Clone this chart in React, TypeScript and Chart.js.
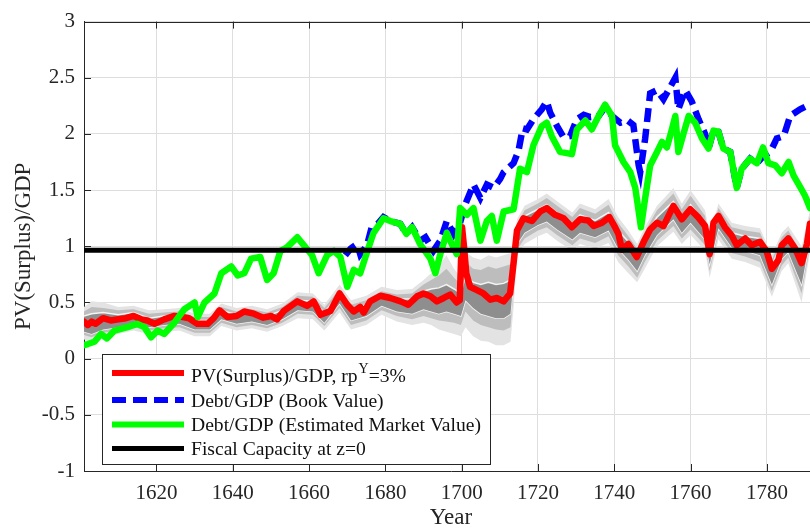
import React, { useEffect, useRef } from "react";
import { Chart, registerables } from "chart.js";

Chart.register(...registerables);

// ---------- data ----------
const xTicks = [1620, 1640, 1660, 1680, 1700, 1720, 1740, 1760, 1780];
const yTicks = [-1, -0.5, 0, 0.5, 1, 1.5, 2, 2.5, 3];
const X_MIN = 1601;
const X_MAX = 1793.4;
const Y_MIN = -1;
const Y_MAX = 3;

const redYears = [1601,1602,1603,1604,1606,1608,1610,1612,1614,1616,1617.6,1619.5,1622,1624.7,1627,1628.5,1630.7,1633.4,1635,1636.5,1638.6,1641,1643,1645.5,1648,1650,1651.6,1653.4,1656.9,1659.5,1661.2,1663,1665.6,1668,1670,1671.7,1673.4,1674.3,1676,1678.7,1681.3,1684,1686,1688.3,1690,1691.8,1693.5,1695.3,1697,1698.7,1699.5,1700.1,1700.6,1701.2,1702.2,1704,1705.7,1707.5,1709.2,1711,1712.7,1713.6,1714.5,1716.2,1718.4,1720.6,1722.3,1724.5,1726.7,1728.9,1731,1733.2,1734.6,1736.8,1738.7,1740.2,1741.1,1742,1743.7,1745.9,1747.7,1749.4,1751.2,1752.9,1755.5,1757.7,1759.9,1762.1,1763.8,1765,1766,1767.3,1769,1770.8,1772.1,1774.3,1776,1778.2,1779.9,1781.3,1783,1783.9,1785.6,1787.4,1789.1,1790.5,1791.3];
const redValues = [0.33,0.30,0.33,0.31,0.36,0.34,0.35,0.36,0.38,0.35,0.34,0.31,0.35,0.38,0.37,0.36,0.31,0.31,0.36,0.43,0.37,0.38,0.42,0.40,0.365,0.38,0.35,0.425,0.51,0.47,0.51,0.39,0.425,0.58,0.48,0.42,0.46,0.41,0.51,0.56,0.54,0.51,0.48,0.555,0.58,0.555,0.51,0.54,0.57,0.50,0.52,1.17,1.00,0.76,0.64,0.61,0.58,0.525,0.54,0.51,0.58,0.85,1.14,1.25,1.225,1.31,1.34,1.28,1.25,1.17,1.24,1.23,1.18,1.21,1.26,1.17,1.11,0.97,1.02,0.905,1.04,1.15,1.21,1.18,1.36,1.24,1.33,1.255,1.18,0.93,1.21,1.27,1.17,1.095,1.01,1.07,1.01,1.04,0.96,0.80,0.875,1.01,1.07,0.98,0.85,1.02,1.20];

const greenYears = [1601,1602,1603.7,1605.5,1607,1609,1612.4,1615,1616.8,1618.6,1620.3,1622,1624.7,1627.3,1630,1630.8,1632.6,1635.2,1637,1639.6,1641.3,1643,1644.8,1647.2,1649,1650.7,1652.5,1654.2,1656.9,1658.6,1660.8,1662.5,1664.7,1666.5,1668.2,1670,1671.7,1673.4,1675.2,1676.9,1679.5,1681.3,1683.9,1685.5,1687,1689.1,1691.8,1693.1,1694.4,1696.1,1697.4,1698.7,1699.6,1701.4,1703.1,1704.9,1706.6,1707.9,1709.2,1711,1713.6,1715.3,1717.1,1718.8,1721,1722.3,1723.6,1725.8,1728.9,1730.2,1732.4,1734.1,1735.9,1737.6,1739.4,1740.2,1742.4,1744.2,1745.5,1747,1748.1,1749.4,1751.2,1752.5,1753.8,1755.1,1756,1756.8,1758.2,1759.5,1761.2,1763,1764.7,1766,1767.3,1768.6,1770.4,1772.1,1773.4,1775.6,1777.4,1779,1780.4,1782.2,1783.9,1785.7,1787,1788.7,1790,1791.3];
const greenValues = [0.12,0.13,0.15,0.22,0.18,0.25,0.28,0.31,0.28,0.19,0.25,0.22,0.32,0.44,0.50,0.37,0.50,0.58,0.76,0.82,0.74,0.76,0.89,0.905,0.70,0.76,0.96,0.99,1.08,1.01,0.92,0.76,0.92,0.96,0.905,0.64,0.79,0.76,0.95,1.12,1.25,1.225,1.20,1.11,1.17,1.02,0.89,0.76,0.93,1.12,1.02,0.93,1.34,1.28,1.34,1.05,1.225,1.27,1.05,1.31,1.33,1.69,1.66,1.90,2.07,2.10,1.98,1.84,1.82,2.04,2.12,2.04,2.16,2.26,2.16,1.90,1.75,1.66,1.52,1.17,1.43,1.72,1.84,1.93,1.88,2.04,2.16,1.84,2.01,2.16,2.10,1.96,1.87,2.03,2.02,1.87,1.84,1.52,1.69,1.78,1.74,1.88,1.74,1.72,1.65,1.75,1.63,1.53,1.45,1.34];

const blueYears = [1669.5,1670.9,1672.6,1673.4,1675.2,1676.5,1678,1679.5,1681.3,1683.9,1685.5,1687,1689.1,1690.5,1692.6,1694.4,1696.1,1697.9,1699.5,1700.9,1703.1,1704.9,1706.6,1708.4,1710.1,1711,1713.6,1714.9,1716,1717.1,1718.8,1721,1722.3,1723.2,1725,1726.7,1728.4,1730.2,1732,1733.7,1735.9,1737.6,1739.4,1741.6,1743.5,1745,1746.4,1746.8,1748.1,1749.4,1751.2,1752.9,1754.2,1756,1756.8,1758.6,1760.3,1762.1,1763.8,1764.7,1766,1767.3,1768.6,1770.4,1772.1,1773.4,1775.6,1777.4,1779,1780.9,1782.6,1784.4,1786.1,1788.7,1790.5,1791.3];
const blueValues = [0.92,0.98,1.02,0.93,1.01,1.18,1.20,1.26,1.225,1.20,1.11,1.17,1.05,1.08,0.96,1.05,1.225,1.11,1.20,1.37,1.55,1.43,1.55,1.52,1.60,1.66,1.74,1.85,2.05,2.04,2.13,2.22,2.29,2.19,2.07,1.97,1.98,2.13,2.17,2.15,2.16,2.24,2.16,2.10,2.12,2.08,1.72,1.66,1.96,2.36,2.39,2.31,2.39,2.50,2.22,2.39,2.29,2.13,2.00,1.87,2.03,2.02,1.87,1.84,1.52,1.69,1.78,1.74,1.80,1.84,1.96,1.98,2.16,2.22,2.25,2.22];

const capacityYears = [X_MIN, X_MAX];
const capacityValues = [0.965, 0.965];

const bandYears = [1601,1603,1606,1610,1614,1618,1622,1626,1630,1634,1637,1641,1645,1649,1653,1657,1661,1664,1668,1671,1675,1679,1683,1687,1690,1692,1694,1696,1698,1699.8,1701,1703,1705,1707,1709,1711,1712.8,1713.6,1714.5,1716.5,1720,1722.3,1725,1729,1731,1735,1738.5,1741,1743.7,1746,1748,1751.2,1755.5,1757.7,1760,1763.8,1765,1767.3,1770.8,1774.3,1778.2,1781.3,1783.9,1785.6,1789.1,1791.3];
const outerHi = [0.46,0.51,0.50,0.46,0.47,0.43,0.44,0.45,0.40,0.40,0.49,0.45,0.47,0.44,0.49,0.59,0.58,0.48,0.66,0.52,0.56,0.64,0.61,0.62,0.70,0.76,0.82,0.92,0.80,0.72,0.95,0.90,0.88,0.92,0.90,0.92,0.94,1.05,1.24,1.36,1.42,1.47,1.40,1.30,1.38,1.33,1.42,1.26,1.14,1.02,1.17,1.36,1.52,1.38,1.50,1.32,1.10,1.38,1.21,1.18,1.16,0.92,1.12,1.18,1.00,1.32];
const midHi = [0.42,0.46,0.45,0.43,0.44,0.40,0.41,0.42,0.37,0.37,0.46,0.42,0.44,0.41,0.46,0.56,0.55,0.45,0.62,0.48,0.52,0.60,0.57,0.58,0.66,0.70,0.74,0.80,0.72,0.66,0.86,0.80,0.79,0.82,0.80,0.82,0.84,0.98,1.20,1.32,1.38,1.43,1.36,1.26,1.34,1.29,1.37,1.21,1.09,0.98,1.13,1.32,1.47,1.33,1.45,1.27,1.04,1.34,1.17,1.14,1.12,0.88,1.08,1.14,0.94,1.27];
const innerHi = [0.38,0.40,0.41,0.39,0.41,0.36,0.38,0.39,0.34,0.34,0.43,0.39,0.41,0.38,0.43,0.52,0.51,0.41,0.58,0.44,0.48,0.57,0.53,0.53,0.60,0.62,0.63,0.66,0.62,0.58,0.74,0.68,0.66,0.68,0.66,0.67,0.70,0.88,1.16,1.27,1.33,1.37,1.30,1.20,1.28,1.23,1.30,1.14,1.04,0.93,1.08,1.26,1.40,1.27,1.37,1.21,0.97,1.29,1.12,1.09,1.07,0.83,1.03,1.09,0.88,1.22];
const innerLo = [0.24,0.22,0.26,0.28,0.31,0.28,0.30,0.31,0.26,0.26,0.35,0.31,0.33,0.30,0.35,0.43,0.42,0.32,0.49,0.34,0.38,0.47,0.42,0.40,0.44,0.42,0.40,0.42,0.40,0.38,0.52,0.45,0.40,0.38,0.36,0.36,0.40,0.70,1.02,1.12,1.19,1.22,1.15,1.06,1.12,1.08,1.14,0.98,0.88,0.78,0.92,1.10,1.24,1.12,1.21,1.06,0.84,1.16,0.99,0.96,0.92,0.66,0.89,0.95,0.66,1.06];
const midLo = [0.21,0.19,0.23,0.25,0.28,0.25,0.27,0.28,0.23,0.23,0.32,0.28,0.30,0.27,0.32,0.40,0.39,0.29,0.45,0.30,0.34,0.43,0.38,0.35,0.38,0.36,0.34,0.33,0.32,0.30,0.42,0.34,0.30,0.28,0.26,0.25,0.28,0.60,0.97,1.07,1.14,1.17,1.10,1.01,1.07,1.03,1.09,0.92,0.82,0.72,0.86,1.05,1.18,1.07,1.15,1.01,0.78,1.11,0.94,0.91,0.86,0.60,0.83,0.90,0.58,1.00];
const outerLo = [0.17,0.15,0.19,0.22,0.25,0.22,0.24,0.25,0.20,0.20,0.29,0.25,0.27,0.24,0.29,0.36,0.35,0.25,0.41,0.26,0.30,0.39,0.33,0.30,0.32,0.30,0.26,0.24,0.22,0.20,0.28,0.20,0.16,0.15,0.12,0.12,0.15,0.45,0.92,1.02,1.09,1.12,1.05,0.96,1.02,0.98,1.03,0.86,0.76,0.68,0.80,1.00,1.13,1.02,1.10,0.96,0.72,1.06,0.89,0.86,0.81,0.55,0.78,0.85,0.50,0.95];

// ---------- styling ----------
const SERIF = "'Liberation Serif', 'Times New Roman', Times, serif";
const AXIS_COLOR = "#262626";
const GRID_COLOR = "#dedede";
const RED = "#ff0000";
const BLUE = "#0000ff";
const GREEN = "#00ff00";
const BLACK = "#000000";
const CANVAS_W = 830;
const CANVAS_H = 532;
const LINE_W = 6.5;

const pts = (xs: number[], ys: number[]) => xs.map((x, i) => ({ x, y: ys[i] }));

const framePlugin = {
  id: "frameTicks",
  beforeDatasetsDraw(chart: any) {
    const { ctx, chartArea: a, scales } = chart;
    const xs = scales.x;
    const ys = scales.y;
    ctx.save();
    ctx.strokeStyle = AXIS_COLOR;
    ctx.lineWidth = 1;
    ctx.beginPath();
    ctx.moveTo(a.left, Math.round(a.top) + 0.5);
    ctx.lineTo(a.right, Math.round(a.top) + 0.5);
    xTicks.forEach((v) => {
      const px = Math.round(xs.getPixelForValue(v)) + 0.5;
      ctx.moveTo(px, a.bottom);
      ctx.lineTo(px, a.bottom - 7);
      ctx.moveTo(px, a.top);
      ctx.lineTo(px, a.top + 7);
    });
    yTicks.forEach((v) => {
      const py = Math.round(ys.getPixelForValue(v)) + 0.5;
      ctx.moveTo(a.left, py);
      ctx.lineTo(a.left + 7, py);
    });
    ctx.stroke();
    ctx.restore();
  },
};

const legendItems = [
  { color: RED, width: 6, dash: [] as number[], dy: 19 },
  { color: BLUE, width: 6, dash: [14, 7], dy: 46 },
  { color: GREEN, width: 6, dash: [] as number[], dy: 70.5 },
  { color: BLACK, width: 5, dash: [] as number[], dy: 94.5 },
];
const legendTexts = [
  "Debt/GDP (Book Value)",
  "Debt/GDP (Estimated Market Value)",
  "Fiscal Capacity at z=0",
];

const legendPlugin = {
  id: "boxLegend",
  afterDatasetsDraw(chart: any) {
    const { ctx, chartArea: a } = chart;
    const bx = Math.round(a.left + 18);
    const by = Math.round(a.top + 332);
    const bw = 388;
    const bh = 110;
    ctx.save();
    ctx.fillStyle = "#ffffff";
    ctx.fillRect(bx, by, bw, bh);
    ctx.strokeStyle = AXIS_COLOR;
    ctx.lineWidth = 1;
    ctx.strokeRect(bx + 0.5, by + 0.5, bw, bh);

    legendItems.forEach((it) => {
      ctx.beginPath();
      ctx.strokeStyle = it.color;
      ctx.lineWidth = it.width;
      ctx.setLineDash(it.dash);
      ctx.lineCap = "butt";
      ctx.moveTo(bx + 10, by + it.dy);
      ctx.lineTo(bx + 82, by + it.dy);
      ctx.stroke();
    });
    ctx.setLineDash([]);

    const tx = bx + 89;
    ctx.fillStyle = "#111111";
    ctx.textAlign = "left";
    ctx.textBaseline = "alphabetic";
    ctx.font = `19.6px ${SERIF}`;
    const base1 = by + legendItems[0].dy + 8.5;
    const part1 = "PV(Surplus)/GDP, rp";
    ctx.fillText(part1, tx, base1);
    let cx = tx + ctx.measureText(part1).width + 1;
    ctx.font = `14px ${SERIF}`;
    ctx.fillText("Y", cx, base1 - 9);
    cx += ctx.measureText("Y").width;
    ctx.font = `19.6px ${SERIF}`;
    ctx.fillText("=3%", cx, base1);
    legendTexts.forEach((t, i) => {
      ctx.fillText(t, tx, by + legendItems[i + 1].dy + 6.5);
    });
    ctx.restore();
  },
};

export default function App() {
  const canvasRef = useRef<HTMLCanvasElement | null>(null);

  useEffect(() => {
    const canvas = canvasRef.current;
    if (!canvas) return;

    const lineDs = (label: string, xs: number[], ys: number[], color: string, width: number, extra: any = {}) => ({
      label,
      data: pts(xs, ys),
      borderColor: color,
      borderWidth: width,
      pointRadius: 0,
      fill: false,
      tension: 0,
      borderJoinStyle: "round",
      borderCapStyle: "round",
      ...extra,
    });
    const bandDs = (label: string, ys: number[], fillColor: string | null, border: string, bw: number) => ({
      label,
      data: pts(bandYears, ys),
      borderColor: border,
      borderWidth: bw,
      pointRadius: 0,
      tension: 0,
      backgroundColor: fillColor || "rgba(0,0,0,0)",
      fill: fillColor ? "+1" : false,
    });

    const chart = new Chart(canvas, {
      type: "line",
      data: {
        datasets: [
          lineDs("Fiscal Capacity at z=0", capacityYears, capacityValues, BLACK, 5, { borderCapStyle: "butt" }),
          lineDs("Debt/GDP (Estimated Market Value)", greenYears, greenValues, GREEN, LINE_W),
          lineDs("Debt/GDP (Book Value)", blueYears, blueValues, BLUE, LINE_W, { borderDash: [14, 7], borderCapStyle: "butt", borderJoinStyle: "miter" }),
          lineDs("PV(Surplus)/GDP", redYears, redValues, RED, LINE_W),
          bandDs("innerHi", innerHi, "#8e8e8e", "#f4f4f4", 1.5),
          bandDs("innerLo", innerLo, null, "#f4f4f4", 1.5),
          bandDs("midHi", midHi, "#bdbdbd", "rgba(0,0,0,0)", 1),
          bandDs("midLo", midLo, null, "rgba(0,0,0,0)", 1),
          bandDs("outerHi", outerHi, "#e3e3e3", "rgba(0,0,0,0)", 1),
          bandDs("outerLo", outerLo, null, "rgba(0,0,0,0)", 1),
        ] as any,
      },
      options: {
        animation: false,
        responsive: false,
        devicePixelRatio: 1,
        layout: { padding: { top: 14, left: 0, right: CANVAS_W - 818, bottom: 0 } },
        plugins: {
          legend: { display: false },
          tooltip: { enabled: false },
        },
        scales: {
          x: {
            type: "linear",
            min: X_MIN,
            max: X_MAX,
            afterBuildTicks: (s: any) => {
              s.ticks = xTicks.map((v) => ({ value: v }));
            },
            afterFit: (s: any) => {
              s.height = 61;
            },
            grid: { color: GRID_COLOR, lineWidth: 1, drawTicks: false },
            border: { display: true, color: AXIS_COLOR, width: 1 },
            ticks: {
              color: AXIS_COLOR,
              font: { family: SERIF, size: 21 },
              padding: 10,
              maxRotation: 0,
              autoSkip: false,
              callback: (v: any) => String(v),
            },
            title: {
              display: true,
              text: "Year",
              color: AXIS_COLOR,
              font: { family: SERIF, size: 23 },
              padding: { top: 0, bottom: 0 },
            },
          },
          y: {
            type: "linear",
            min: Y_MIN,
            max: Y_MAX,
            afterBuildTicks: (s: any) => {
              s.ticks = yTicks.map((v) => ({ value: v }));
            },
            afterFit: (s: any) => {
              s.width = 84;
            },
            grid: { color: GRID_COLOR, lineWidth: 1, drawTicks: false },
            border: { display: true, color: AXIS_COLOR, width: 1 },
            ticks: {
              color: AXIS_COLOR,
              font: { family: SERIF, size: 21 },
              padding: 9,
              callback: (v: any) => String(v),
            },
            title: {
              display: true,
              text: "PV(Surplus)/GDP",
              color: AXIS_COLOR,
              font: { family: SERIF, size: 23 },
              padding: { top: 10, bottom: 0 },
            },
          },
        },
      } as any,
      plugins: [framePlugin, legendPlugin],
    });

    return () => chart.destroy();
  }, []);

  return (
    <div
      style={{
        position: "fixed",
        left: 0,
        top: 0,
        width: 810,
        height: 532,
        overflow: "hidden",
        background: "#ffffff",
      }}
    >
      <canvas ref={canvasRef} width={CANVAS_W} height={CANVAS_H} style={{ display: "block" }} />
    </div>
  );
}
